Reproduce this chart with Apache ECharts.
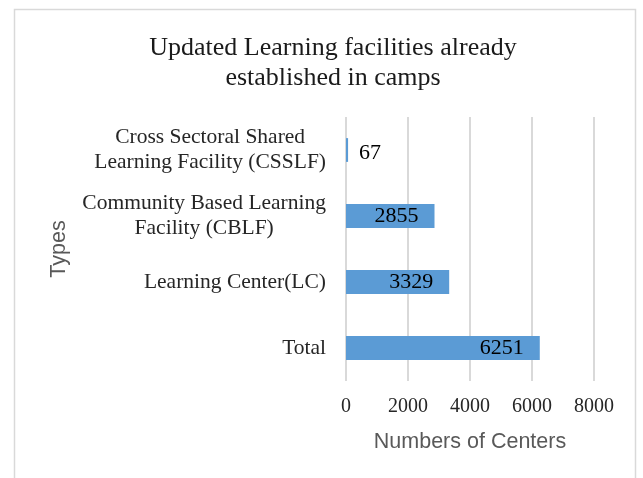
<!DOCTYPE html>
<html>
<head>
<meta charset="utf-8">
<script src="https://cdn.jsdelivr.net/npm/echarts@6/dist/echarts.min.js"></script>
<style>
  html, body { margin: 0; padding: 0; background: #fff; }
  #chart { width: 643px; height: 478px; }
</style>
</head>
<body>
<div id="chart"></div>
<script>
// bottom to top, the way the category axis stacks them
const categories = [
  "Total",
  "Learning Center(LC)",
  "Community Based Learning\nFacility (CBLF)",
  "Cross Sectoral Shared\nLearning Facility (CSSLF)",
];
const centers = [6251, 3329, 2855, 67];
const xTicks = [0, 2000, 4000, 6000, 8000];

const serif = "'Liberation Serif', 'Times New Roman', serif";
const sans = "'Liberation Sans', Arial, sans-serif";

const chart = echarts.init(document.getElementById("chart"));

const option = {
  animation: false,
  title: {
    text: "Updated Learning facilities already\nestablished in camps",
    left: 328,
    top: 28,
    textAlign: "center",
    textStyle: {
      fontFamily: serif,
      fontSize: 26,
      fontWeight: "normal",
      color: "#1a1a1a",
      lineHeight: 30,
    },
  },
  graphic: [
    {
      type: "rect",
      shape: { x: 14.5, y: 9.5, width: 621, height: 480 },
      style: { fill: "none", stroke: "#d9d9d9", lineWidth: 1.5 },
      silent: true,
    },
  ],
  grid: {
    left: 346,
    right: 49,
    top: 117,
    bottom: 97,
    outerBoundsMode: "none",
  },
  xAxis: {
    type: "value",
    min: xTicks[0],
    max: xTicks[xTicks.length - 1],
    interval: 2000,
    name: "Numbers of Centers",
    nameLocation: "middle",
    nameGap: 50,
    nameTextStyle: { fontFamily: sans, fontSize: 21.5, color: "#595959" },
    axisLine: { show: false },
    axisTick: { show: false },
    axisLabel: {
      margin: 16,
      fontFamily: serif,
      fontSize: 20,
      color: "#262626",
      formatter: (v) => String(v),
    },
    splitLine: { lineStyle: { color: "#d9d9d9", width: 2 } },
  },
  yAxis: {
    type: "category",
    data: categories,
    name: "Types",
    nameLocation: "middle",
    nameGap: 276,
    nameTextStyle: { fontFamily: sans, fontSize: 21.5, color: "#595959" },
    axisLine: { show: false },
    axisTick: { show: false },
    axisLabel: {
      margin: 20,
      formatter: (v) => v.split("\n").map((l) => "{c|" + l + "}").join("\n"),
      rich: {
        c: {
          align: "center",
          fontFamily: serif,
          fontSize: 21.5,
          lineHeight: 25,
          color: "#262626",
        },
      },
    },
  },
  series: [
    {
      type: "bar",
      data: centers.map((v) =>
        v < 500
          ? { value: v, label: { position: "right", distance: 11, offset: [0, 3] } }
          : v
      ),
      barCategoryGap: "64%",
      itemStyle: { color: "#5B9BD5" },
      label: {
        show: true,
        position: "insideRight",
        distance: 16,
        fontFamily: serif,
        fontSize: 22,
        color: "#000",
      },
    },
  ],
};

chart.setOption(option);
</script>
</body>
</html>
